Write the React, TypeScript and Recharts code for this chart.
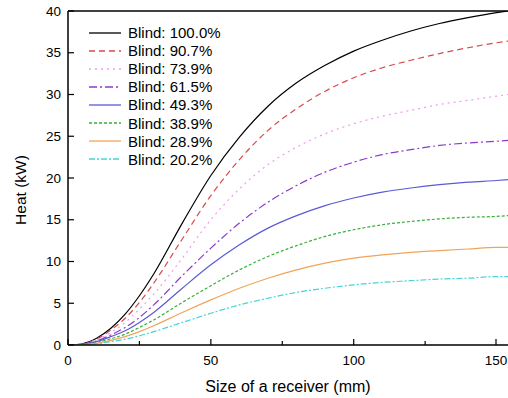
import React from "react";
import { LineChart, Line, XAxis, YAxis, ReferenceLine, Label } from "recharts";

const sizes = [0, 5, 10, 15, 20, 25, 30, 40, 50, 60, 70, 80, 90, 100, 110, 120, 130, 140, 150, 154];

const blind1000 = [0, 0.15, 0.8, 2.0, 3.7, 5.9, 8.5, 14.6, 20.3, 24.9, 28.6, 31.4, 33.5, 35.2, 36.5, 37.6, 38.5, 39.2, 39.8, 40.0];
const blind907 = [0, 0.12, 0.7, 1.8, 3.2, 5.1, 7.4, 12.7, 17.9, 22.2, 25.7, 28.3, 30.4, 32.0, 33.2, 34.1, 34.9, 35.6, 36.2, 36.4];
const blind739 = [0, 0.1, 0.6, 1.5, 2.7, 4.3, 6.1, 10.4, 15.0, 18.7, 21.6, 23.7, 25.3, 26.5, 27.4, 28.1, 28.8, 29.3, 29.8, 30.0];
const blind615 = [0, 0.08, 0.5, 1.2, 2.1, 3.3, 4.8, 8.3, 11.6, 14.6, 17.1, 19.1, 20.7, 21.9, 22.8, 23.4, 23.9, 24.2, 24.4, 24.5];
const blind493 = [0, 0.07, 0.4, 1.0, 1.7, 2.7, 3.9, 6.8, 9.6, 12.0, 14.0, 15.5, 16.7, 17.6, 18.3, 18.8, 19.2, 19.5, 19.7, 19.8];
const blind389 = [0, 0.05, 0.3, 0.75, 1.3, 2.1, 3.0, 5.1, 7.1, 9.0, 10.6, 11.9, 13.0, 13.8, 14.4, 14.8, 15.1, 15.3, 15.4, 15.5];
const blind289 = [0, 0.04, 0.2, 0.55, 1.0, 1.6, 2.3, 3.9, 5.4, 6.8, 8.0, 9.0, 9.8, 10.4, 10.8, 11.1, 11.3, 11.5, 11.7, 11.7];
const blind202 = [0, 0.03, 0.15, 0.4, 0.7, 1.1, 1.6, 2.7, 3.8, 4.8, 5.6, 6.3, 6.8, 7.2, 7.5, 7.7, 7.9, 8.0, 8.2, 8.2];

const xTicks = [0, 25, 50, 75, 100, 125, 150];
const yTicks = [0, 2.5, 5, 7.5, 10, 12.5, 15, 17.5, 20, 22.5, 25, 27.5, 30, 32.5, 35, 37.5, 40];

const series = [
  { key: "b1000", name: "Blind: 100.0%", values: blind1000, color: "#000000", dash: undefined },
  { key: "b907", name: "Blind: 90.7%", values: blind907, color: "#d84a4a", dash: "6 4" },
  { key: "b739", name: "Blind: 73.9%", values: blind739, color: "#ee9cee", dash: "2 4" },
  { key: "b615", name: "Blind: 61.5%", values: blind615, color: "#8a3cc8", dash: "8 3 2 3" },
  { key: "b493", name: "Blind: 49.3%", values: blind493, color: "#5a5ad6", dash: undefined },
  { key: "b389", name: "Blind: 38.9%", values: blind389, color: "#3aae3a", dash: "3 2" },
  { key: "b289", name: "Blind: 28.9%", values: blind289, color: "#f0a45a", dash: undefined },
  { key: "b202", name: "Blind: 20.2%", values: blind202, color: "#48d4d4", dash: "6 2 2 2" },
];

const rows = sizes.map((x, i) => {
  const row: Record<string, number> = { x };
  series.forEach((s) => {
    row[s.key] = s.values[i];
  });
  return row;
});

const font = "'Liberation Sans', Arial, sans-serif";

const XTick = (props: any) => {
  const { x, y, payload } = props;
  const major = payload.value % 50 === 0;
  return (
    <g>
      <line x1={x} y1={y} x2={x} y2={y - (major ? 6 : 4)} stroke="#000" strokeWidth={1.2} />
      {major && (
        <text x={x} y={y + 15} textAnchor="middle" dominantBaseline="central" fontFamily={font} fontSize={13.5} fill="#000">
          {payload.value}
        </text>
      )}
    </g>
  );
};

const YTick = (props: any) => {
  const { x, y, payload } = props;
  const major = payload.value % 5 === 0;
  return (
    <g>
      <line x1={x} y1={y} x2={x + (major ? 6 : 4)} y2={y} stroke="#000" strokeWidth={1.2} />
      {major && (
        <text x={x - 7} y={y} textAnchor="end" dominantBaseline="central" fontFamily={font} fontSize={13.5} fill="#000">
          {payload.value}
        </text>
      )}
    </g>
  );
};

// legend drawn as a plain html overlay so it does not eat plot space
const LegendBox = () => (
  <div style={{ position: "absolute", left: 88, top: 23.5, fontFamily: font, fontSize: 15, color: "#000" }}>
    {series.map((s) => (
      <div key={s.key} style={{ display: "flex", alignItems: "center", height: 18.1, whiteSpace: "nowrap" }}>
        <svg width={34} height={10} style={{ marginRight: 6 }}>
          <line x1={1} y1={5} x2={33} y2={5} stroke={s.color} strokeWidth={1.3} strokeDasharray={s.dash} />
        </svg>
        <span>{s.name}</span>
      </div>
    ))}
  </div>
);

export default function App() {
  return (
    <div style={{ position: "absolute", left: 0, top: 0, width: 508, height: 398, background: "#fff" }}>
      <LineChart width={508} height={398} data={rows} margin={{ top: 11, right: 0, left: 0, bottom: 0 }}>
        <XAxis
          dataKey="x"
          type="number"
          domain={[0, 154]}
          ticks={xTicks}
          allowDataOverflow
          height={53}
          tickSize={0}
          tickMargin={0}
          tick={<XTick />}
          axisLine={{ stroke: "#000", strokeWidth: 1.5 }}
        >
          <Label
            content={() => (
              <text x={288} y={386} textAnchor="middle" dominantBaseline="central" fontFamily={font} fontSize={16} fill="#000">
                Size of a receiver (mm)
              </text>
            )}
          />
        </XAxis>
        <YAxis
          type="number"
          domain={[0, 40]}
          ticks={yTicks}
          allowDataOverflow
          width={68}
          tickSize={0}
          tickMargin={0}
          tick={<YTick />}
          axisLine={{ stroke: "#000", strokeWidth: 1.5 }}
        >
          <Label
            content={() => (
              <text x={20} y={190} transform="rotate(-90 20 190)" textAnchor="middle" dominantBaseline="central" fontFamily={font} fontSize={15.5} fill="#000">
                Heat (kW)
              </text>
            )}
          />
        </YAxis>
        <ReferenceLine y={40} stroke="#000" strokeWidth={1.5} />
        {series.map((s) => (
          <Line
            key={s.key}
            dataKey={s.key}
            name={s.name}
            type="monotone"
            stroke={s.color}
            strokeWidth={1.2}
            strokeDasharray={s.dash}
            dot={false}
            isAnimationActive={false}
          />
        ))}
      </LineChart>
      <LegendBox />
    </div>
  );
}
